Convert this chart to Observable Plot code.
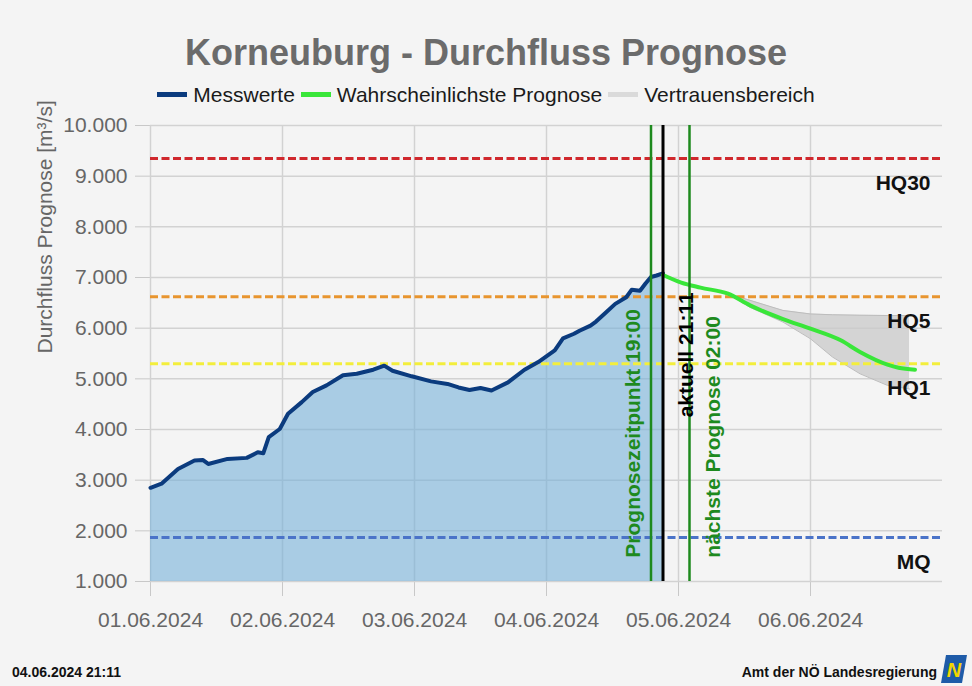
<!DOCTYPE html>
<html><head><meta charset="utf-8">
<script src="https://cdn.jsdelivr.net/npm/d3@7"></script>
<script src="https://cdn.jsdelivr.net/npm/@observablehq/plot@0.6"></script>
<style>
html,body{margin:0;padding:0;background:#f4f4f4;}
#wrap{position:relative;width:972px;height:686px;overflow:hidden;font-family:"Liberation Sans",Arial,Helvetica,sans-serif;}
#title{position:absolute;left:0;top:35px;width:972px;text-align:center;font-size:36px;line-height:36px;font-weight:bold;color:#6b6b6b;}
#legend{position:absolute;left:0;top:84px;width:972px;display:flex;justify-content:center;align-items:center;font-size:21px;line-height:21px;color:#1a1a1a;}
.item{display:flex;align-items:center;margin:0 3px;}
.sw{width:30px;height:5px;margin-right:6px;}
#chart{position:absolute;left:0;top:0;}
#footL{position:absolute;left:12px;top:665px;font-size:14px;line-height:14px;font-weight:bold;color:#111;}
#footR{position:absolute;right:35px;top:665px;font-size:14px;line-height:14px;font-weight:bold;color:#111;}
#logo{position:absolute;left:941px;top:655px;}
svg g[aria-label$="axis tick"]{stroke:#c8c8c8;}
</style>
</head><body>
<div id="wrap">
  <div id="chart"></div>
  <div id="title">Korneuburg - Durchfluss Prognose</div>
  <div id="legend">
    <div class="item"><div class="sw" style="background:#0b3b7e"></div>Messwerte</div>
    <div class="item"><div class="sw" style="background:#39e639"></div>Wahrscheinlichste Prognose</div>
    <div class="item"><div class="sw" style="background:#dadada"></div>Vertrauensbereich</div>
  </div>
  <div id="footL">04.06.2024 21:11</div>
  <div id="footR">Amt der NÖ Landesregierung</div>
  <svg id="logo" width="26" height="28" viewBox="0 0 26 28">
    <polygon points="5,0 26,0 21,28 0,28" fill="#1e5ba8"/>
    <text x="13" y="22" text-anchor="middle" font-size="20" font-weight="bold" font-style="italic" font-family="Liberation Sans, Arial, sans-serif" fill="#f2d600">N</text>
  </svg>
</div>
<script>
// ---- data ----
const measuredTimes = [
  "2024-06-01T00:00","2024-06-01T02:00","2024-06-01T05:00","2024-06-01T08:00","2024-06-01T09:30",
  "2024-06-01T10:30","2024-06-01T14:00","2024-06-01T17:30","2024-06-01T19:30","2024-06-01T20:30",
  "2024-06-01T21:30","2024-06-01T23:30","2024-06-02T01:00","2024-06-02T03:30","2024-06-02T05:30",
  "2024-06-02T08:00","2024-06-02T11:00","2024-06-02T13:30","2024-06-02T16:30","2024-06-02T18:30",
  "2024-06-02T20:00","2024-06-02T23:30","2024-06-03T03:00","2024-06-03T06:00","2024-06-03T08:00",
  "2024-06-03T10:00","2024-06-03T12:00","2024-06-03T14:00","2024-06-03T17:00","2024-06-03T20:00",
  "2024-06-03T22:30","2024-06-04T01:30","2024-06-04T03:00","2024-06-04T05:00","2024-06-04T06:00",
  "2024-06-04T08:00","2024-06-04T09:00","2024-06-04T10:30","2024-06-04T12:30","2024-06-04T14:30",
  "2024-06-04T15:30","2024-06-04T17:00","2024-06-04T18:00","2024-06-04T19:00","2024-06-04T20:00",
  "2024-06-04T21:11"
];
const measuredValues = [
  2850,2930,3220,3390,3400,
  3320,3420,3440,3550,3530,
  3850,4010,4310,4540,4740,
  4870,5070,5100,5180,5260,
  5160,5050,4950,4900,4830,
  4780,4820,4770,4930,5180,
  5330,5560,5800,5890,5950,
  6050,6130,6280,6480,6610,
  6760,6740,6880,7010,7040,
  7080
];
const forecastTimes = [
  "2024-06-04T21:11","2024-06-05T00:30","2024-06-05T04:00","2024-06-05T09:00","2024-06-05T13:00",
  "2024-06-05T19:00","2024-06-06T00:00","2024-06-06T05:30","2024-06-06T09:00","2024-06-06T14:00",
  "2024-06-06T16:00","2024-06-06T19:00"
];
const forecastValues = [7050,6900,6800,6680,6450,6180,5990,5760,5530,5280,5220,5180];
const bandTimes = [
  "2024-06-05T09:00","2024-06-05T13:00","2024-06-05T19:00","2024-06-06T00:00",
  "2024-06-06T04:00","2024-06-06T09:00","2024-06-06T14:00","2024-06-06T18:00"
];
const bandLow  = [6680,6410,6120,5790,5430,5100,4870,4800];
const bandHigh = [6680,6550,6350,6280,6265,6255,6250,6250];
const thresholdNames  = ["HQ30","HQ5","HQ1","MQ"];
const thresholdValues = [9350,6620,5300,1870];
const eventNames = ["Prognosezeitpunkt 19:00","aktuell 21:11","nächste Prognose 02:00"];
const eventTimes = ["2024-06-04T19:00","2024-06-04T21:11","2024-06-05T02:00"];
const eventLabelBase = [1470,4240,1470];
const yTicks = [1000,2000,3000,4000,5000,6000,7000,8000,9000,10000];
const xTickTimes = ["2024-06-01T00:00","2024-06-02T00:00","2024-06-03T00:00","2024-06-04T00:00","2024-06-05T00:00","2024-06-06T00:00"];
const xDomain = ["2024-06-01T00:00","2024-06-07T00:00"];
const yAxisTitle = "Durchfluss Prognose [m³/s]";

// ---- build ----
const parse = d3.utcParse("%Y-%m-%dT%H:%M");
const measured = measuredTimes.map((t,i)=>({t:parse(t), v:measuredValues[i]}));
const forecast = forecastTimes.map((t,i)=>({t:parse(t), v:forecastValues[i]}));
const band = bandTimes.map((t,i)=>({t:parse(t), lo:bandLow[i], hi:bandHigh[i]}));
const thresholds = thresholdNames.map((n,i)=>({name:n, v:thresholdValues[i]}));
const events = eventNames.map((n,i)=>({name:n, t:parse(eventTimes[i]), base:eventLabelBase[i]}));
const xTicks = xTickTimes.map(parse);
const xEnd = parse(xDomain[1]);
const de = d3.formatLocale({decimal:",", thousands:".", grouping:[3], currency:["","€"]});
const fmt = de.format(",");

const green = "#1e8a1e";
const chart = Plot.plot({
  width: 972, height: 686,
  marginTop: 125, marginBottom: 105, marginLeft: 150, marginRight: 30,
  style: {background:"transparent", fontFamily:"'Liberation Sans', Arial, Helvetica, sans-serif", fontSize:"21px", color:"#666", overflow:"visible"},
  x: {type:"utc", domain: xDomain.map(parse), ticks: xTicks, tickFormat: d3.utcFormat("%d.%m.%Y"), tickSize: 15, tickPadding: 16, label: null},
  y: {domain:[1000,10000], ticks: yTicks, tickFormat: fmt, tickSize: 15, tickPadding: 8, label: null},
  color: {domain: thresholdNames, range: ["#d0282d","#e8952f","#f3ee3c","#4a73c8"]},
  marks: [
    Plot.ruleY(yTicks, {stroke:"#d2d2d2", strokeWidth:1.5}),
    Plot.ruleX(xTicks, {stroke:"#d2d2d2", strokeWidth:1.5}),
    Plot.areaY(measured, {x:"t", y1:1000, y2:"v", fill:"#77b0d8", fillOpacity:0.6}),
    Plot.areaY(band, {x:"t", y1:"lo", y2:"hi", fill:"#c9c9c9", fillOpacity:0.75}),
    Plot.line(band, {x:"t", y:"hi", stroke:"#bdbdbd", strokeWidth:1}),
    Plot.line(band, {x:"t", y:"lo", stroke:"#bdbdbd", strokeWidth:1}),
    Plot.ruleY(thresholds, {y:"v", stroke:"name", strokeWidth:3, strokeDasharray:"8,3.5"}),
    Plot.line(measured, {x:"t", y:"v", stroke:"#0b3b7e", strokeWidth:4, strokeLinejoin:"round"}),
    Plot.line(forecast, {x:"t", y:"v", stroke:"#39e639", strokeWidth:4, curve:"monotone-x"}),
    Plot.ruleX([events[0]], {x:"t", stroke:green, strokeWidth:2.5}),
    Plot.ruleX([events[1]], {x:"t", stroke:"#000", strokeWidth:3}),
    Plot.ruleX([events[2]], {x:"t", stroke:green, strokeWidth:2.5}),
    Plot.text([events[0]], {x:"t", y:"base", text:"name", rotate:-90, textAnchor:"start", dx:-18, fill:green, fontWeight:"bold", fontSize:21}),
    Plot.text([events[1]], {x:"t", y:"base", text:"name", rotate:-90, textAnchor:"start", dx:23, fill:"#000", fontWeight:"bold", fontSize:21}),
    Plot.text([events[2]], {x:"t", y:"base", text:"name", rotate:-90, textAnchor:"start", dx:24, fill:green, fontWeight:"bold", fontSize:21}),
    Plot.text(thresholds, {x:() => xEnd, y:"v", text:"name", textAnchor:"end", dx:-12, dy:25, fill:"#111", fontWeight:"bold", fontSize:21}),
    Plot.text([yAxisTitle], {frameAnchor:"left", rotate:-90, dx:-105, fill:"#666", fontSize:21})
  ]
});
document.getElementById("chart").appendChild(chart);
</script>
</body></html>
